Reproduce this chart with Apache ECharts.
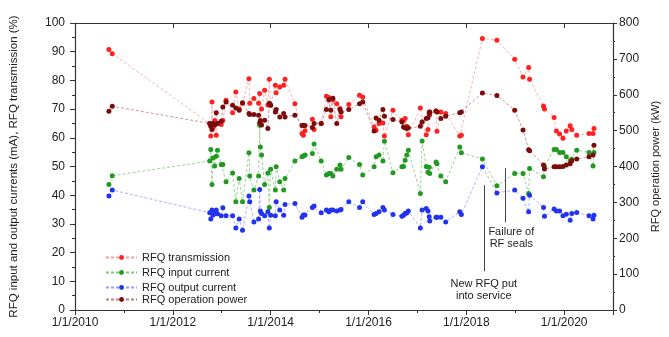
<!DOCTYPE html>
<html>
<head>
<meta charset="utf-8">
<script src="https://cdn.jsdelivr.net/npm/echarts@6/dist/echarts.min.js"></script>
<style>
  html, body { margin: 0; padding: 0; background: #fff; }
  #chart { width: 669px; height: 337px; }
</style>
</head>
<body>
<div id="chart"></div>
<script>
// measurement dates (one per campaign point)
const dates = [
  '2010-09-11', '2010-10-06',
  '2012-10-03', '2012-10-11', '2012-10-20', '2012-10-28', '2012-11-09', '2012-11-21', '2012-11-30', '2012-12-28',
  '2013-01-09', '2013-02-02', '2013-03-23', '2013-04-16', '2013-05-11', '2013-06-05', '2013-07-23', '2013-07-29',
  '2013-08-29', '2013-10-03', '2013-10-11', '2013-10-16', '2013-10-25', '2013-11-17', '2013-12-11', '2013-12-22',
  '2014-01-01', '2014-02-05', '2014-02-11', '2014-03-10', '2014-04-08', '2014-04-18', '2014-07-01', '2014-08-23',
  '2014-09-02', '2014-09-14', '2014-11-08', '2014-11-21',
  '2015-01-13', '2015-02-21', '2015-03-11', '2015-03-26', '2015-04-10', '2015-05-09', '2015-06-02', '2015-06-10',
  '2015-08-07', '2015-10-26', '2015-11-19',
  '2016-02-12', '2016-02-27', '2016-03-20', '2016-04-18', '2016-04-29', '2016-07-02', '2016-09-07', '2016-09-19',
  '2016-10-01', '2016-10-13', '2016-10-25',
  '2017-01-23', '2017-02-05', '2017-03-08', '2017-03-21', '2017-03-30', '2017-04-03', '2017-05-20', '2017-05-27',
  '2017-06-25', '2017-07-31', '2017-11-13', '2017-11-25',
  '2018-05-01', '2018-08-17', '2018-12-28',
  '2019-02-28', '2019-04-11', '2019-04-18', '2019-07-31', '2019-08-07', '2019-10-18', '2019-11-04', '2019-11-28', '2019-12-23',
  '2020-01-17', '2020-02-15', '2020-02-27', '2020-04-04', '2020-07-05', '2020-08-04', '2020-08-11'
]

// RFQ transmission (%)
const transmission = [
  90.8, 89.3,
  65.0, 60.6, 72.5, 63.5, 66.0, 60.9, 65.0, 64.6,
  66.0, 73.1, 68.7, 76.0, 70.0, 72.0, 80.6, 72.0, 73.7, 72.0, 75.4, 65.0, 70.0, 76.6, 71.4, 80.4,
  71.4, 78.3, 75.7, 77.7, 78.3, 80.4, 71.9, 61.5, 60.9, 62.5, 66.5, 62.9,
  65.0, 74.5, 74.0, 67.3, 73.3, 71.9, 70.2, 67.3, 71.6, 74.8, 74.2,
  63.8, 62.6, 65.0, 65.2, 60.6, 69.6, 66.1, 66.0, 66.7, 64.0, 61.1,
  70.4, 65.5, 61.1, 62.9, 69.0, 68.0, 69.4, 62.3, 69.0, 68.5, 60.6, 60.9,
  94.6, 94.0, 87.4,
  81.2, 84.5, 80.4, 71.1, 70.0, 67.1, 62.4, 61.3, 59.8,
  62.4, 64.2, 62.9, 60.9, 61.5, 61.5, 63.2
]

// RFQ input current (mA)
const inputCurrent = [
  43.7, 46.8,
  51.9, 55.9, 43.7, 53.0, 50.2, 53.6, 55.7, 50.7,
  50.7, 44.7, 47.7, 37.7, 45.8, 37.7, 54.8, 46.7, 41.8, 46.7, 64.4, 56.8, 54.0, 43.7, 47.7, 35.7,
  49.0, 41.8, 49.9, 44.7, 41.8, 45.8, 51.9, 53.4, 53.7, 54.0, 54.5, 57.8,
  51.9, 47.0, 47.6, 47.6, 46.7, 49.0, 50.5, 49.0, 53.1, 50.7, 47.0,
  49.9, 53.4, 54.0, 51.9, 58.8, 47.8, 49.9, 50.0, 52.2, 54.0, 55.7,
  40.6, 58.9, 50.0, 48.0, 49.7, 47.6, 51.6, 51.0, 46.7, 44.7, 56.8, 54.8,
  52.6, 43.3, 47.6,
  47.6, 40.6, 49.3, 46.4, 50.0, 55.9, 55.9, 54.9, 54.9,
  53.4, 52.0, 52.5, 55.7, 54.9, 50.2, 54.9
]

// RFQ output current (mA)
const outputCurrent = [
  39.7, 41.8,
  33.9, 31.7, 34.8, 33.1, 33.6, 34.8, 33.5, 32.8,
  35.6, 32.8, 32.8, 28.6, 31.7, 27.8, 39.7, 37.7, 30.7, 31.7, 42.0, 34.5, 33.6, 32.8, 34.2, 28.6,
  33.0, 32.8, 37.7, 34.8, 33.0, 36.8, 37.1, 32.3, 33.1, 33.1, 35.7, 36.2,
  33.9, 34.8, 34.2, 34.8, 34.8, 34.5, 34.8, 35.0, 37.7, 35.7, 37.7,
  33.3, 33.6, 34.2, 35.7, 34.8, 33.3, 32.7, 33.0, 33.6, 33.8, 34.5,
  28.6, 34.8, 35.4, 34.5, 32.5, 31.0, 32.3, 32.3, 32.3, 30.7, 34.2, 33.3,
  49.9, 40.8, 41.8,
  38.9, 34.2, 40.0, 35.7, 32.7, 35.2, 34.5, 34.5, 32.8,
  33.4, 31.3, 33.6, 34.0, 32.8, 31.7, 33.0
]

// RFQ operation power (kW), right axis
const operationPower = [
  554, 568,
  520, 512, 503, 520, 516, 550, 520, 526,
  566, 580, 571, 563, 557, 578, 548, 545, 545, 543, 522, 528, 516, 529, 506, 576,
  571, 552, 559, 538, 548, 538, 543, 514, 514, 514, 509, 520,
  520, 559, 586, 557, 590, 520, 559, 552, 559, 575, 580,
  499, 535, 529, 559, 540, 531, 524, 510, 508, 506, 508,
  512, 524, 534, 536, 548, 552, 554, 552, 534, 540, 550, 552,
  605, 598, 557,
  502, 447, 444, 404, 393, 399, 399, 399, 400,
  404, 408, 416, 421, 427, 432, 459
]

const seriesNames = ['RFQ transmission', 'RFQ input current', 'RFQ output current', 'RFQ operation power']

// annotations: date and vertical extent (left axis units)
const newRfqDate = '2018-05-11'
const newRfqSpan = [43.5, 13.5]
const sealFailDate = '2018-10-19'
const sealFailSpan = [49.4, 30.6]

const font = 'Liberation Sans'
const ink = '#222'

// date string -> fractional year
const toYear = (s) => {
  const [y, m, d] = s.split('-').map(Number)
  const start = Date.UTC(y, 0, 1)
  const end = Date.UTC(y + 1, 0, 1)
  return y + (Date.UTC(y, m - 1, d) - start) / (end - start)
}
const pairs = (vals) => dates.map((d, i) => [toYear(d), vals[i]])

const mkSeries = (name, vals, dot, line, yAxisIndex) => ({
  name,
  type: 'line',
  xAxisIndex: 0,
  yAxisIndex,
  data: pairs(vals),
  symbol: 'circle',
  symbolSize: 5,
  showAllSymbol: true,
  itemStyle: { color: dot },
  lineStyle: { color: line, width: 0.8, type: [3, 2] },
  emphasis: { disabled: true }
})

const chart = echarts.init(document.getElementById('chart'))

const xBase = { type: 'value', min: 2010, max: 2021, splitLine: { show: false } }
const axisLine = { show: true, onZero: false, lineStyle: { color: '#333', width: 1.2 } }

const outSeries = mkSeries(seriesNames[2], outputCurrent, '#2233ee', '#9a9aff', 0)
outSeries.markLine = {
  silent: true,
  symbol: 'none',
  animation: false,
  lineStyle: { color: '#444', width: 1, type: 'solid' },
  label: { position: 'end', color: ink, fontSize: 11, fontFamily: font, lineHeight: 12 },
  data: [
    [
      { coord: [toYear(newRfqDate), newRfqSpan[0]], label: { formatter: 'New RFQ put\ninto service', distance: 7 } },
      { coord: [toYear(newRfqDate), newRfqSpan[1]] }
    ],
    [
      { coord: [toYear(sealFailDate), sealFailSpan[0]], label: { formatter: 'Failure of\nRF seals', distance: 4, padding: [0, 0, 0, 12] } },
      { coord: [toYear(sealFailDate), sealFailSpan[1]] }
    ]
  ]
}

const legendTops = [247, 262, 277, 289]

const option = {
  animation: false,
  textStyle: { fontFamily: font },
  grid: { left: 73, right: 45, top: 23, bottom: 27 },
  legend: seriesNames.map((n, i) => ({
    data: [n],
    left: 100,
    top: legendTops[i],
    itemWidth: 31,
    itemHeight: 6,
    selectedMode: false,
    textStyle: { fontSize: 11, fontFamily: font, color: ink }
  })),
  xAxis: [
    {
      ...xBase,
      position: 'bottom',
      interval: 2,
      axisLine,
      axisTick: { show: true, length: 5, lineStyle: { color: '#333' } },
      axisLabel: {
        margin: 7,
        fontSize: 12,
        color: ink,
        fontFamily: font,
        formatter: (v) => (v % 2 === 0 && v < 2021 ? '1/1/' + v : '')
      }
    },
    {
      ...xBase,
      position: 'bottom',
      interval: 1,
      axisLine: { show: false },
      axisTick: { show: true, length: 3, lineStyle: { color: '#333' } },
      axisLabel: { show: false }
    },
    {
      ...xBase,
      position: 'top',
      interval: 2,
      axisLine,
      axisTick: { show: true, inside: true, length: 5, lineStyle: { color: '#333' } },
      axisLabel: { show: false }
    },
    {
      ...xBase,
      position: 'top',
      interval: 1,
      axisLine: { show: false },
      axisTick: { show: true, inside: true, length: 3, lineStyle: { color: '#333' } },
      axisLabel: { show: false }
    }
  ],
  yAxis: [
    {
      type: 'value',
      position: 'left',
      min: 0,
      max: 100,
      interval: 10,
      name: 'RFQ input and output currents (mA), RFQ transmission (%)',
      nameLocation: 'middle',
      nameGap: 55,
      nameRotate: 90,
      nameTextStyle: { fontSize: 11.5, color: ink, fontFamily: font },
      axisLine,
      axisTick: { show: true, length: 5, lineStyle: { color: '#333' } },
      minorTick: { show: true, splitNumber: 2, length: 3, lineStyle: { color: '#333' } },
      splitLine: { show: false },
      axisLabel: { margin: 10, fontSize: 12, color: ink, fontFamily: font }
    },
    {
      type: 'value',
      position: 'right',
      min: 0,
      max: 800,
      interval: 100,
      name: 'RFQ operation power (kW)',
      nameLocation: 'middle',
      nameGap: 28,
      nameRotate: 90,
      nameTextStyle: { fontSize: 11, color: ink, fontFamily: font },
      axisLine,
      axisTick: { show: true, length: 4, lineStyle: { color: '#333' } },
      minorTick: { show: true, splitNumber: 2, length: 2, lineStyle: { color: '#333' } },
      splitLine: { show: false },
      axisLabel: { margin: 6, fontSize: 12, color: ink, fontFamily: font }
    }
  ],
  series: [
    mkSeries(seriesNames[0], transmission, '#ff2020', '#f4a0a0', 0),
    mkSeries(seriesNames[1], inputCurrent, '#229922', '#80c880', 0),
    outSeries,
    mkSeries(seriesNames[3], operationPower, '#7b0c0c', '#c08080', 1)
  ]
}

chart && chart.setOption(option)
</script>
</body>
</html>
